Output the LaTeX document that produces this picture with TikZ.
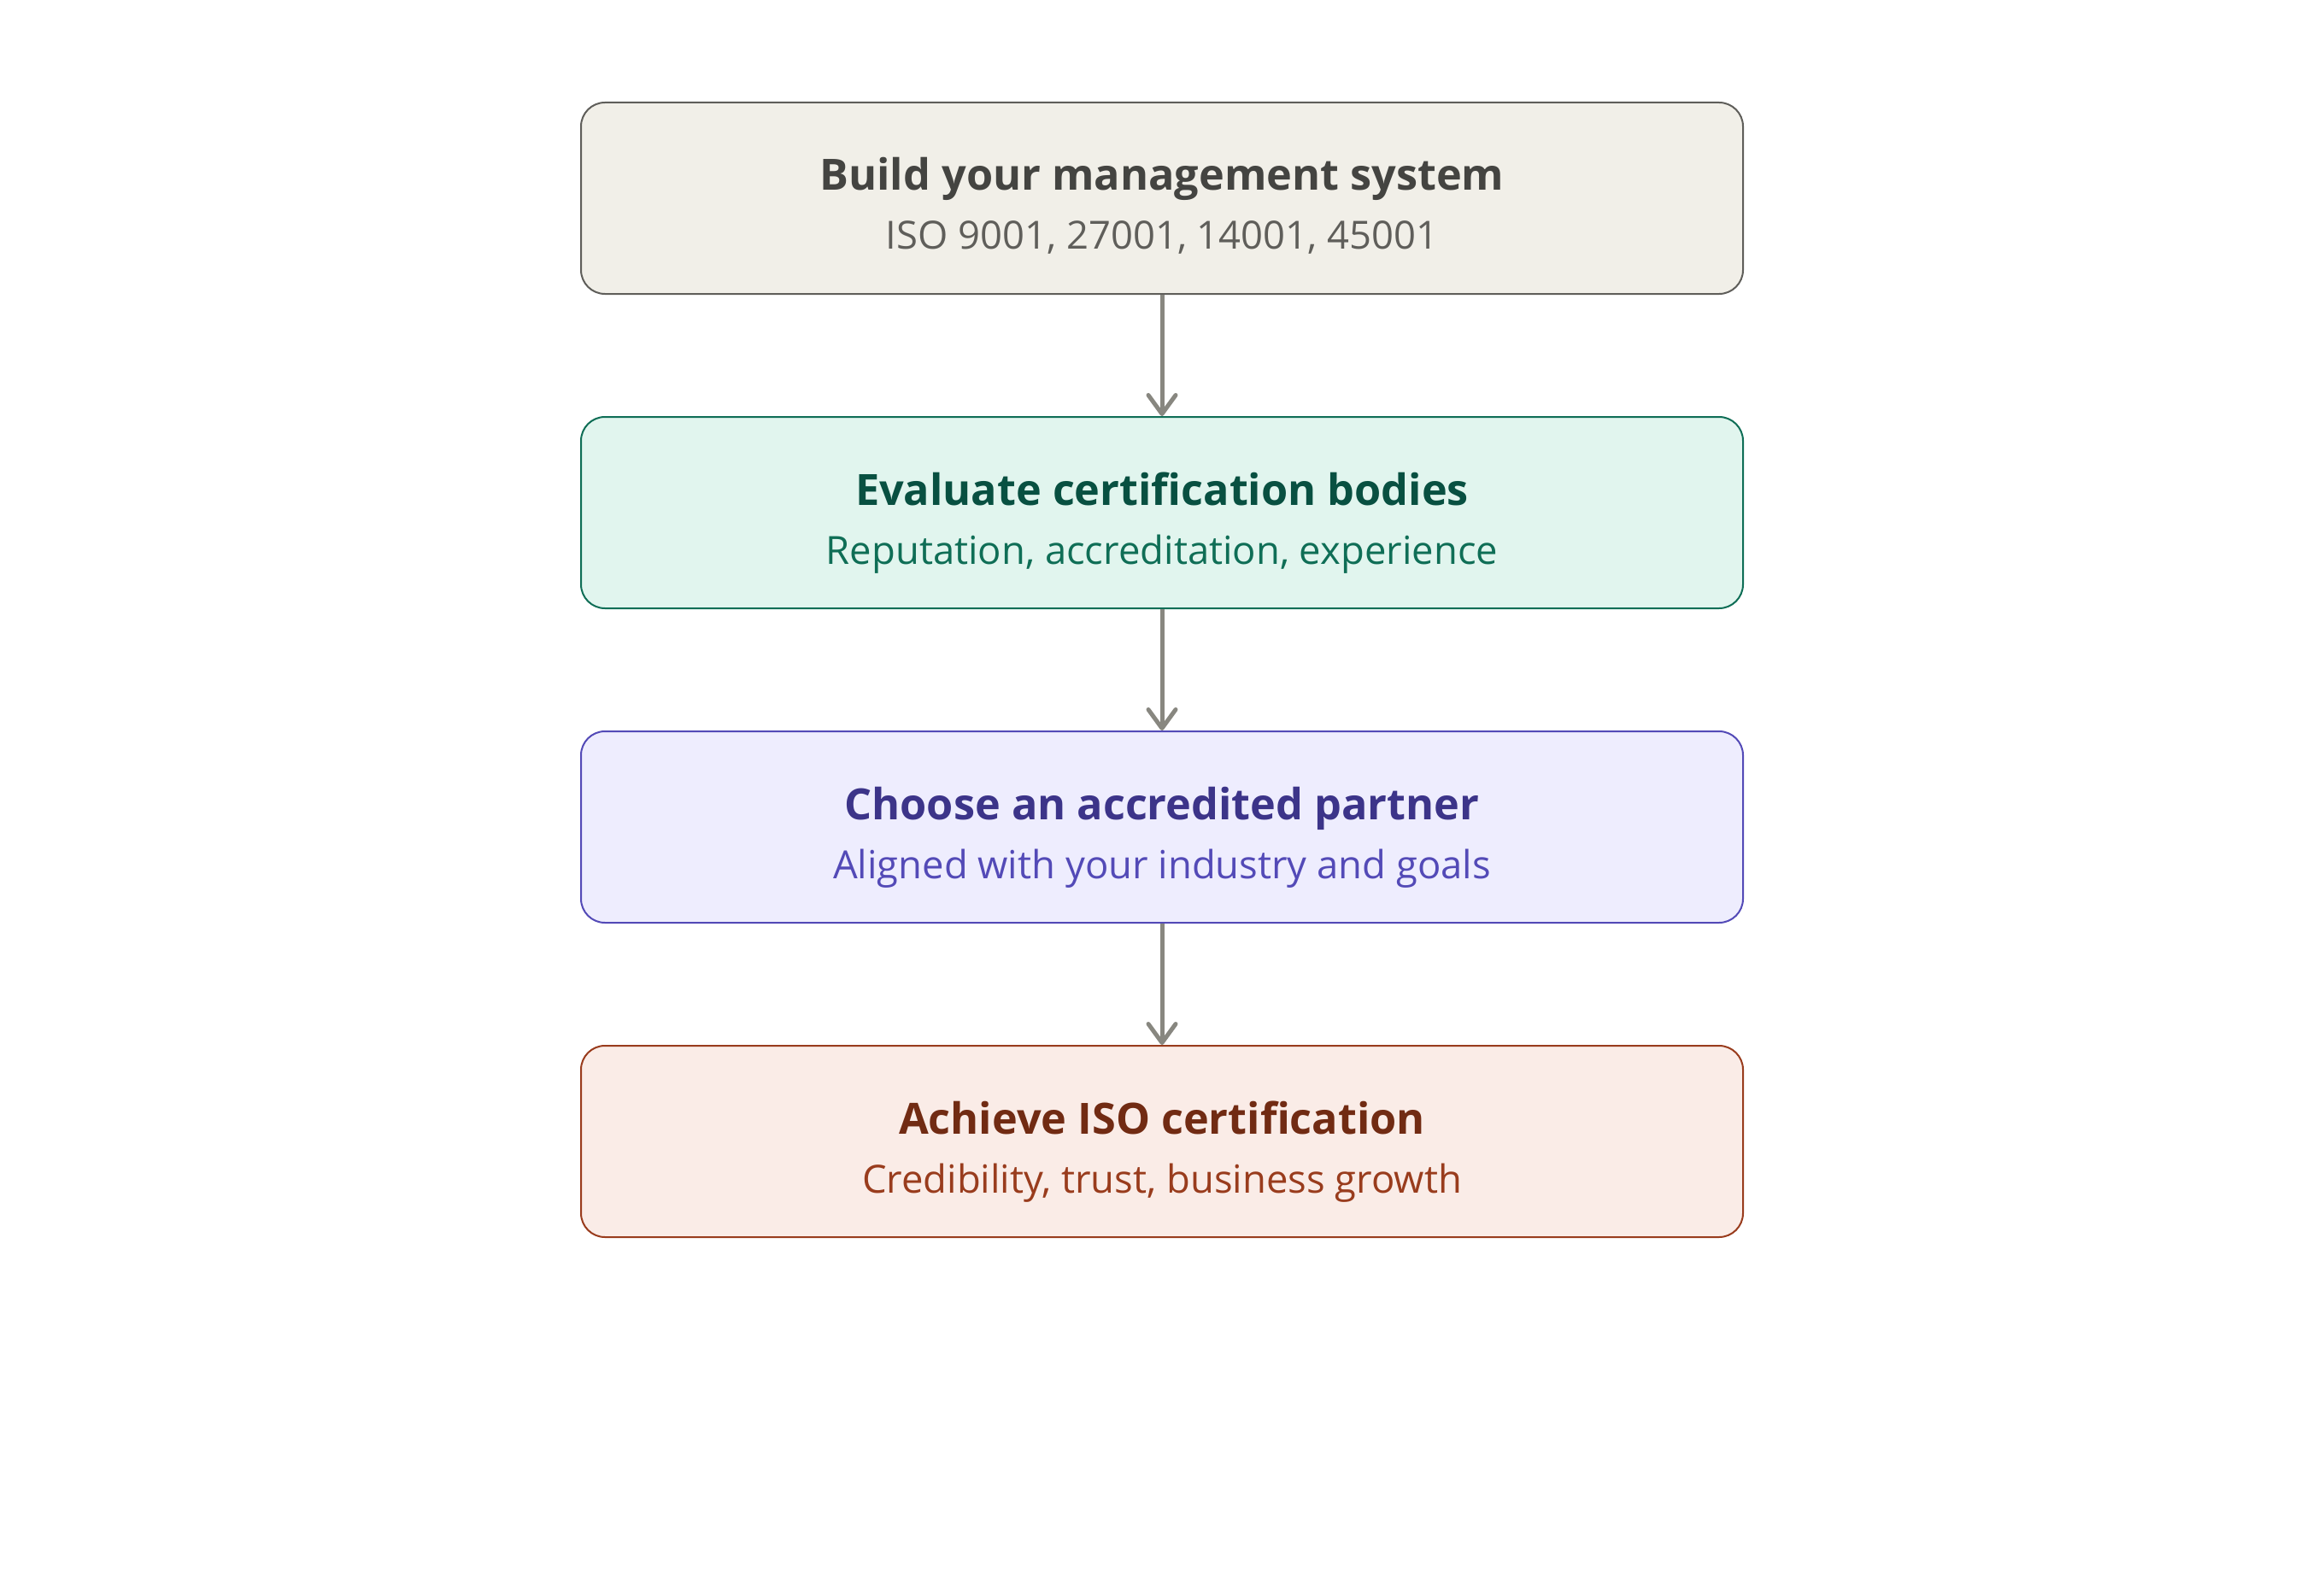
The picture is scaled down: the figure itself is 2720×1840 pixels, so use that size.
\documentclass[tikz,border=0pt]{standalone}
\usepackage{fontspec}
\setmainfont{Open Sans}
\usetikzlibrary{arrows.meta}
\definecolor{fillA}{HTML}{F1EFE8}\definecolor{lineA}{HTML}{5F5E5A}\definecolor{headA}{HTML}{444441}
\definecolor{fillB}{HTML}{E1F5EE}\definecolor{lineB}{HTML}{0F6E56}\definecolor{headB}{HTML}{085041}
\definecolor{fillC}{HTML}{EEEDFE}\definecolor{lineC}{HTML}{534AB7}\definecolor{headC}{HTML}{3C3489}
\definecolor{fillD}{HTML}{FAECE7}\definecolor{lineD}{HTML}{993C1D}\definecolor{headD}{HTML}{712B13}
\definecolor{arrowgray}{HTML}{888780}
\tikzset{
  stepbox/.style={draw, line width=0.5pt, rounded corners=7pt, minimum width=340pt, minimum height=56pt, inner sep=0pt},
  titletext/.style={anchor=base, inner sep=0pt, font=\bfseries\fontsize{12.6pt}{16pt}\selectfont},
  subtext/.style={anchor=base, inner sep=0pt, font=\fontsize{11.35pt}{14pt}\selectfont},
  flow/.style={draw=arrowgray, line width=1.25pt, -{Straight Barb[length=5.5pt, width=8pt, line width=1.25pt, round]}}
}
\begin{document}
\begin{tikzpicture}[x=0.25pt, y=-0.25pt]
\useasboundingbox (0,0) rectangle (2720,1840);
\node[stepbox, draw=lineA, fill=fillA] (b1) at (1360,232) {};
\node[stepbox, draw=lineB, fill=fillB] (b2) at (1360,600) {};
\node[stepbox, draw=lineC, fill=fillC] (b3) at (1360,968) {};
\node[stepbox, draw=lineD, fill=fillD] (b4) at (1360,1336) {};
\node[titletext, text=headA] (t1) at (1360,223) {Build your management system};
\node[subtext, text=lineA] (s1) at (1360,292) {ISO 9001, 27001, 14001, 45001};
\node[titletext, text=headB] (t2) at (1360,591) {Evaluate certification bodies};
\node[subtext, text=lineB] (s2) at (1360,660) {Reputation, accreditation, experience};
\node[titletext, text=headC] (t3) at (1360,959) {Choose an accredited partner};
\node[subtext, text=lineC] (s3) at (1360,1028) {Aligned with your industry and goals};
\node[titletext, text=headD] (t4) at (1360,1327) {Achieve ISO certification};
\node[subtext, text=lineD] (s4) at (1360,1396) {Credibility, trust, business growth};
\draw[flow] (b1.south) -- (b2.north);
\draw[flow] (b2.south) -- (b3.north);
\draw[flow] (b3.south) -- (b4.north);
\end{tikzpicture}
\end{document}
